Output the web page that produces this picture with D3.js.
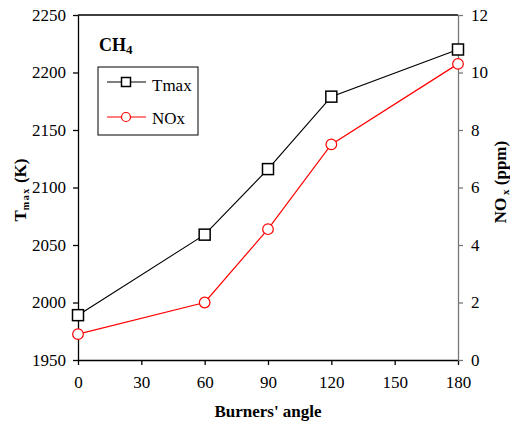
<!DOCTYPE html>
<html><head><meta charset="utf-8">
<script src="https://cdn.jsdelivr.net/npm/d3@7"></script>
<style>body{margin:0;background:#fff}svg{display:block}svg text{font-family:"Liberation Serif","Times New Roman",serif !important}</style>
</head><body>
<script>
const angles = [0, 60, 90, 120, 180];
const tmax = [1989, 2059, 2116, 2179, 2220];
const nox = [0.9, 2.0, 4.55, 7.5, 10.3];
const xTicks = [0, 30, 60, 90, 120, 150, 180];
const yLeftTicks = [1950, 2000, 2050, 2100, 2150, 2200, 2250];
const yRightTicks = [0, 2, 4, 6, 8, 10, 12];

const W = 510, H = 424;
const m = {l: 78, r: 52, t: 15, b: 64};
const svg = d3.select("body").append("svg").attr("width", W).attr("height", H);
const font = "Liberation Serif";

const x = d3.scaleLinear().domain([0, 180]).range([m.l, W - m.r]);
const yL = d3.scaleLinear().domain([1950, 2250]).range([H - m.b, m.t]);
const yR = d3.scaleLinear().domain([0, 12]).range([H - m.b, m.t]);

// top border
svg.append("line").attr("x1", x(0)).attr("x2", x(180)).attr("y1", m.t).attr("y2", m.t)
  .attr("stroke", "#000").attr("stroke-width", 1.3);

const styleAxis = (g, color) => {
  g.attr("font-family", null);
  g.selectAll("path").attr("stroke", color).attr("stroke-width", 1.3);
  g.selectAll("line").attr("stroke", color).attr("stroke-width", 1.3);
  g.selectAll("text").style("font-family", font).attr("font-size", 17).attr("fill", "#000");
};

const fmt = d3.format("d");
const gx = svg.append("g").attr("transform", `translate(0,${H - m.b})`)
  .call(d3.axisBottom(x).tickValues(xTicks).tickFormat(fmt).tickSize(5).tickSizeOuter(0).tickPadding(11));
styleAxis(gx, "#000");

const gl = svg.append("g").attr("transform", `translate(${m.l},0)`)
  .call(d3.axisLeft(yL).tickValues(yLeftTicks).tickFormat(fmt).tickSize(5).tickSizeOuter(0).tickPadding(7));
styleAxis(gl, "#000");

const gr = svg.append("g").attr("transform", `translate(${W - m.r},0)`)
  .call(d3.axisRight(yR).tickValues(yRightTicks).tickFormat(fmt).tickSize(5).tickSizeOuter(0).tickPadding(8));
styleAxis(gr, "#777");

// lines
const lineT = d3.line().x((d, i) => x(angles[i])).y(d => yL(d));
const lineN = d3.line().x((d, i) => x(angles[i])).y(d => yR(d));
svg.append("path").datum(tmax).attr("d", lineT).attr("fill", "none").attr("stroke", "#000").attr("stroke-width", 1.2);
svg.append("path").datum(nox).attr("d", lineN).attr("fill", "none").attr("stroke", "#ff0000").attr("stroke-width", 1.2);

svg.selectAll("rect.mT").data(tmax).enter().append("rect")
  .attr("x", (d, i) => x(angles[i]) - 5.5).attr("y", d => yL(d) - 5.5)
  .attr("width", 11).attr("height", 11).attr("fill", "#fff").attr("stroke", "#000").attr("stroke-width", 1.5);
svg.selectAll("circle.mN").data(nox).enter().append("circle")
  .attr("cx", (d, i) => x(angles[i])).attr("cy", d => yR(d)).attr("r", 5.3)
  .attr("fill", "#fff").attr("stroke", "#ff0000").attr("stroke-width", 1.2);

// CH4 label
const ch = svg.append("text").attr("x", 99).attr("y", 51)
  .attr("font-weight", "bold").attr("font-size", 18);
ch.append("tspan").text("CH");
ch.append("tspan").text("4").attr("font-size", 13).attr("dy", 3);

// legend
svg.append("rect").attr("x", 98).attr("y", 67).attr("width", 100).attr("height", 68)
  .attr("fill", "#fff").attr("stroke", "#000").attr("stroke-width", 1);
svg.append("line").attr("x1", 107).attr("x2", 146).attr("y1", 82).attr("y2", 82).attr("stroke", "#000").attr("stroke-width", 1.2);
svg.append("rect").attr("x", 121.5).attr("y", 77.5).attr("width", 9).attr("height", 9).attr("fill", "#fff").attr("stroke", "#000").attr("stroke-width", 1.5);
svg.append("text").attr("x", 152).attr("y", 91).attr("font-size", 17).text("Tmax");
svg.append("line").attr("x1", 107).attr("x2", 146).attr("y1", 117).attr("y2", 117).attr("stroke", "#ff0000").attr("stroke-width", 1.2);
svg.append("circle").attr("cx", 126).attr("cy", 117).attr("r", 4.5).attr("fill", "#fff").attr("stroke", "#ff0000").attr("stroke-width", 1.2);
svg.append("text").attr("x", 152).attr("y", 124).attr("font-size", 17).text("NOx");

// axis titles
svg.append("text").attr("x", (x(0) + x(180)) / 2).attr("y", 417).attr("text-anchor", "middle")
  .attr("font-weight", "bold").attr("font-size", 17).text("Burners' angle");

const tl = svg.append("text").attr("transform", "translate(26,190) rotate(-90)").attr("text-anchor", "middle")
  .attr("font-weight", "bold").attr("font-size", 17);
tl.append("tspan").text("T");
tl.append("tspan").text("max").attr("font-size", 10).attr("dy", 3).attr("letter-spacing", 1.5);
tl.append("tspan").text(" (K)").attr("dy", -3);

const tr = svg.append("text").attr("transform", "translate(506,182) rotate(-90)").attr("text-anchor", "middle")
  .attr("font-weight", "bold").attr("font-size", 17);
tr.append("tspan").text("NO");
tr.append("tspan").text(" x").attr("font-size", 11).attr("dy", 3);
tr.append("tspan").text(" (ppm)").attr("dy", -3);
</script>
</body></html>
